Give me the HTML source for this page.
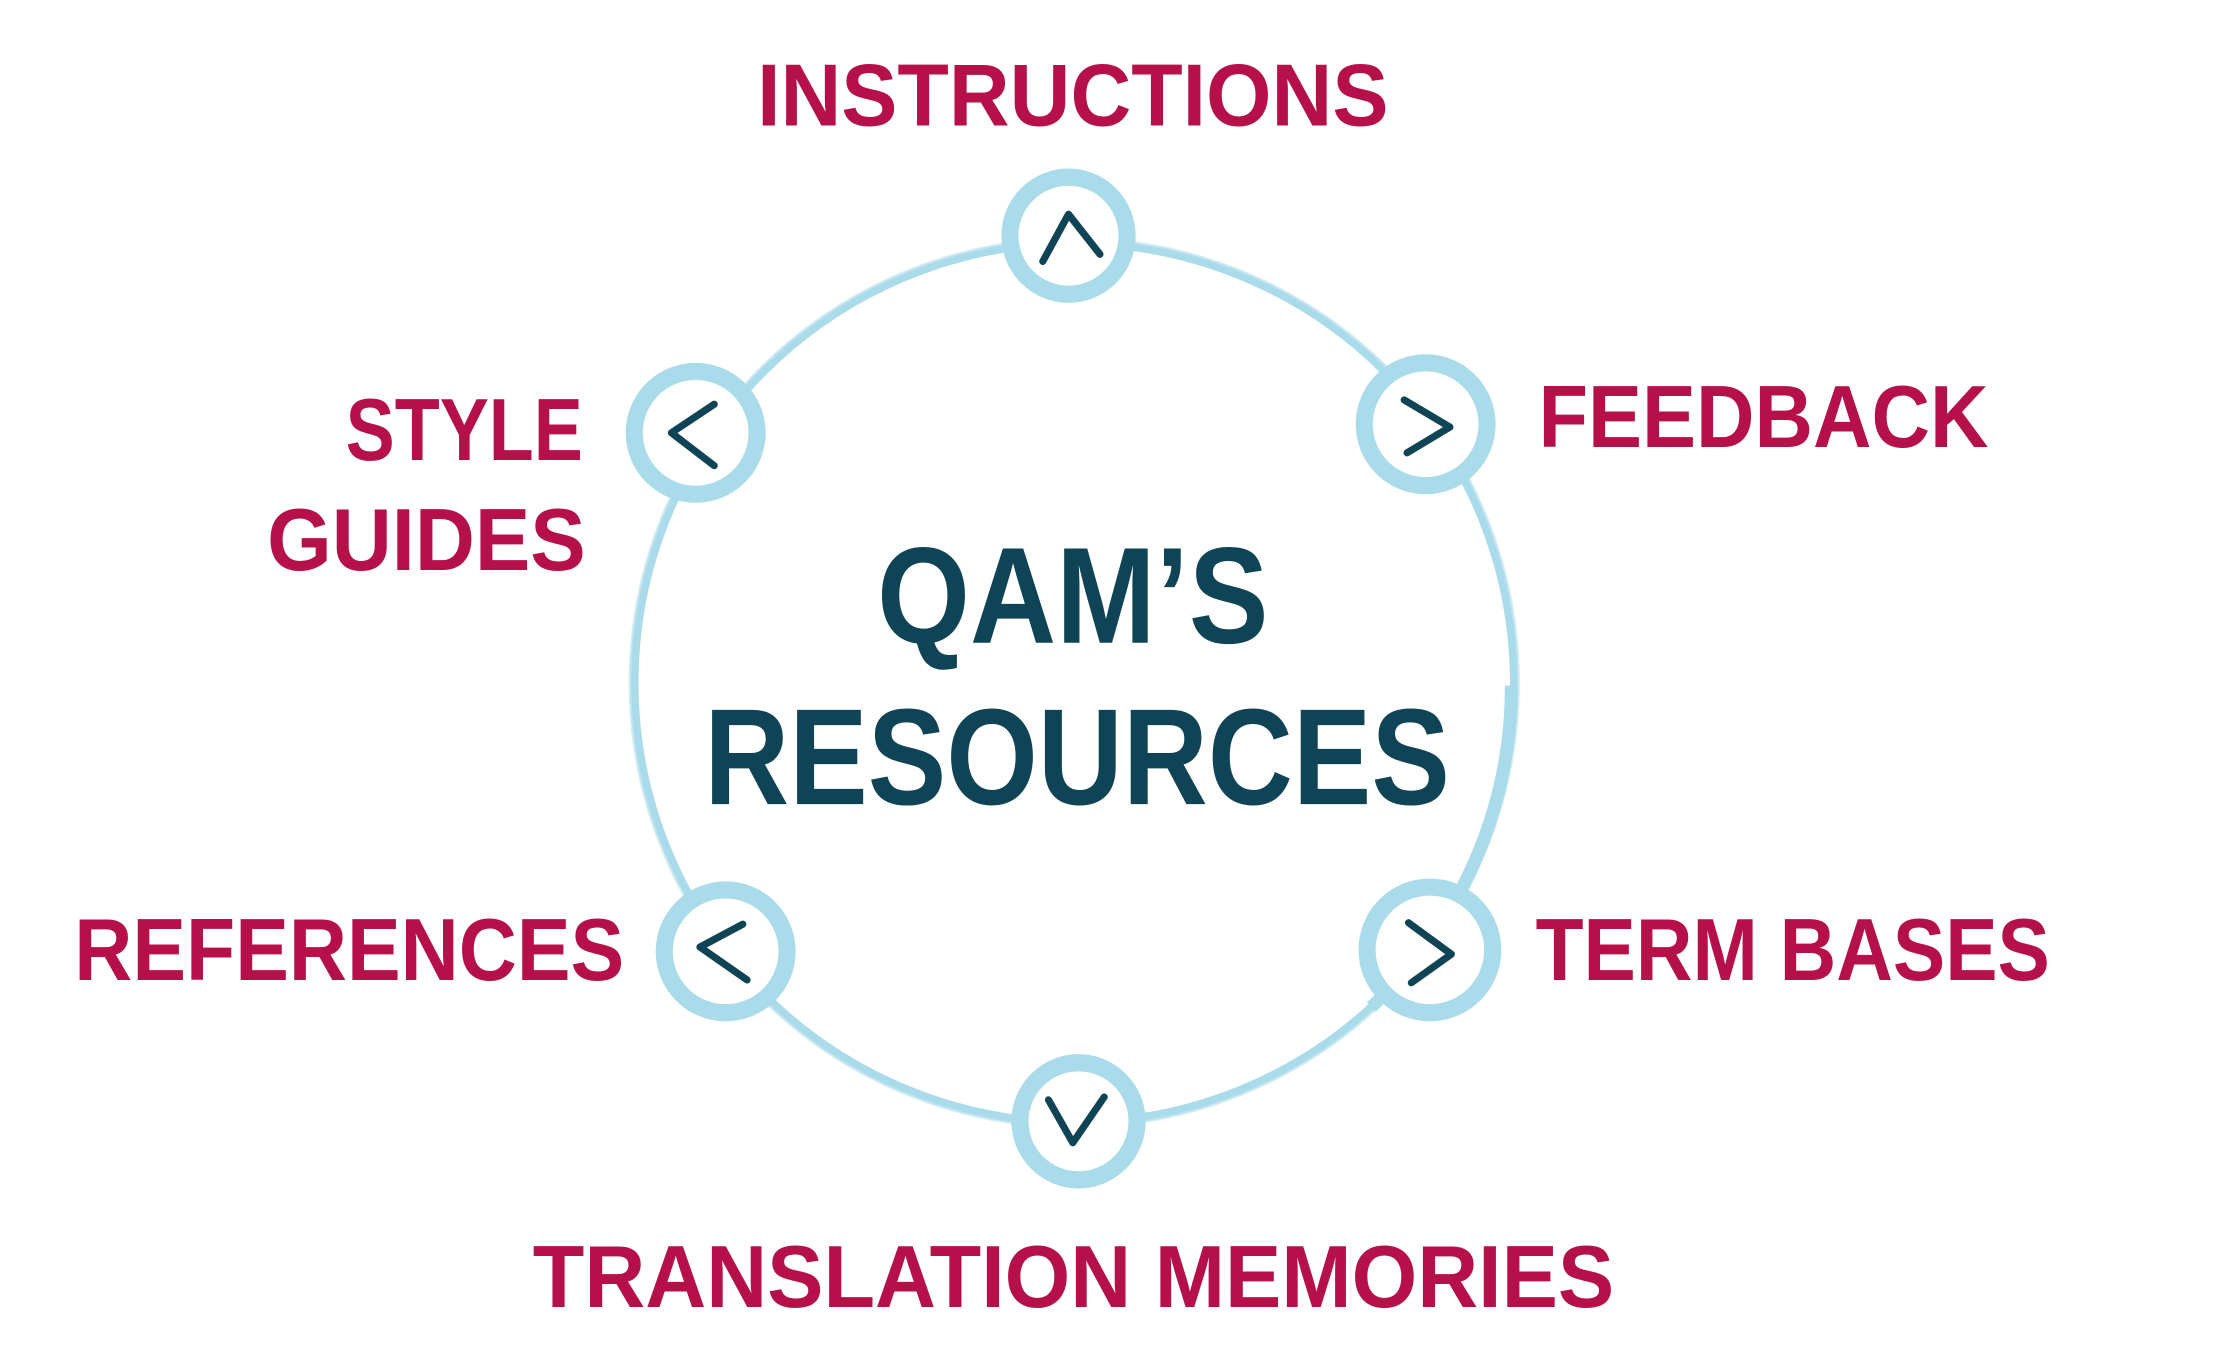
<!DOCTYPE html>
<html><head><meta charset="utf-8">
<style>
html,body{margin:0;padding:0;background:#fff;}
svg{display:block;}
text{font-family:"Liberation Sans",sans-serif;font-weight:bold;}
</style></head>
<body>
<svg width="2227" height="1356" viewBox="0 0 1559 949.3" preserveAspectRatio="none" xmlns="http://www.w3.org/2000/svg">
  <circle cx="752" cy="478" r="308" fill="none" stroke="#a9dbea" stroke-width="6"/>
  <circle cx="752" cy="478" r="311" fill="none" stroke="#c4e6f0" stroke-width="2" opacity="0.7"/>
  <path d="M1058,480 A306,306 0 0 1 960,705" fill="none" stroke="#a9dbea" stroke-width="9"/>
  <g fill="#fff" stroke="#a9dbea" stroke-width="12">
    <circle cx="748" cy="165" r="41"/>
    <circle cx="998" cy="297" r="43"/>
    <circle cx="487" cy="303" r="43"/>
    <circle cx="508" cy="666" r="43"/>
    <circle cx="1001" cy="665" r="44"/>
    <circle cx="755" cy="785" r="41"/>
  </g>
  <g fill="none" stroke="#0f4356" stroke-width="5" stroke-linecap="round" stroke-linejoin="round">
    <polyline points="730,183 748,150 770,178"/>
    <polyline points="983,280 1015,299 985,317"/>
    <polyline points="500,283 470,303 500,326"/>
    <polyline points="520,647 490,663 523,686"/>
    <polyline points="986,646 1016,668 988,688"/>
    <polyline points="734,770 751,800 773,768"/>
  </g>
  <g fill="#b5104a" font-size="62">
    <text x="530" y="88" textLength="442" lengthAdjust="spacingAndGlyphs">INSTRUCTIONS</text>
    <text x="1077" y="313" textLength="315" lengthAdjust="spacingAndGlyphs">FEEDBACK</text>
    <text x="242" y="322" textLength="166" lengthAdjust="spacingAndGlyphs">STYLE</text>
    <text x="187" y="399" textLength="223" lengthAdjust="spacingAndGlyphs">GUIDES</text>
    <text x="52" y="686" textLength="385" lengthAdjust="spacingAndGlyphs">REFERENCES</text>
    <text x="1075" y="686" textLength="360" lengthAdjust="spacingAndGlyphs">TERM BASES</text>
    <text x="373" y="915" textLength="757" lengthAdjust="spacingAndGlyphs">TRANSLATION MEMORIES</text>
  </g>
  <g fill="#0f4356" font-size="96">
    <text x="614" y="450" textLength="274" lengthAdjust="spacingAndGlyphs">QAM’S</text>
    <text x="493" y="563" textLength="522" lengthAdjust="spacingAndGlyphs">RESOURCES</text>
  </g>
</svg>
</body></html>
